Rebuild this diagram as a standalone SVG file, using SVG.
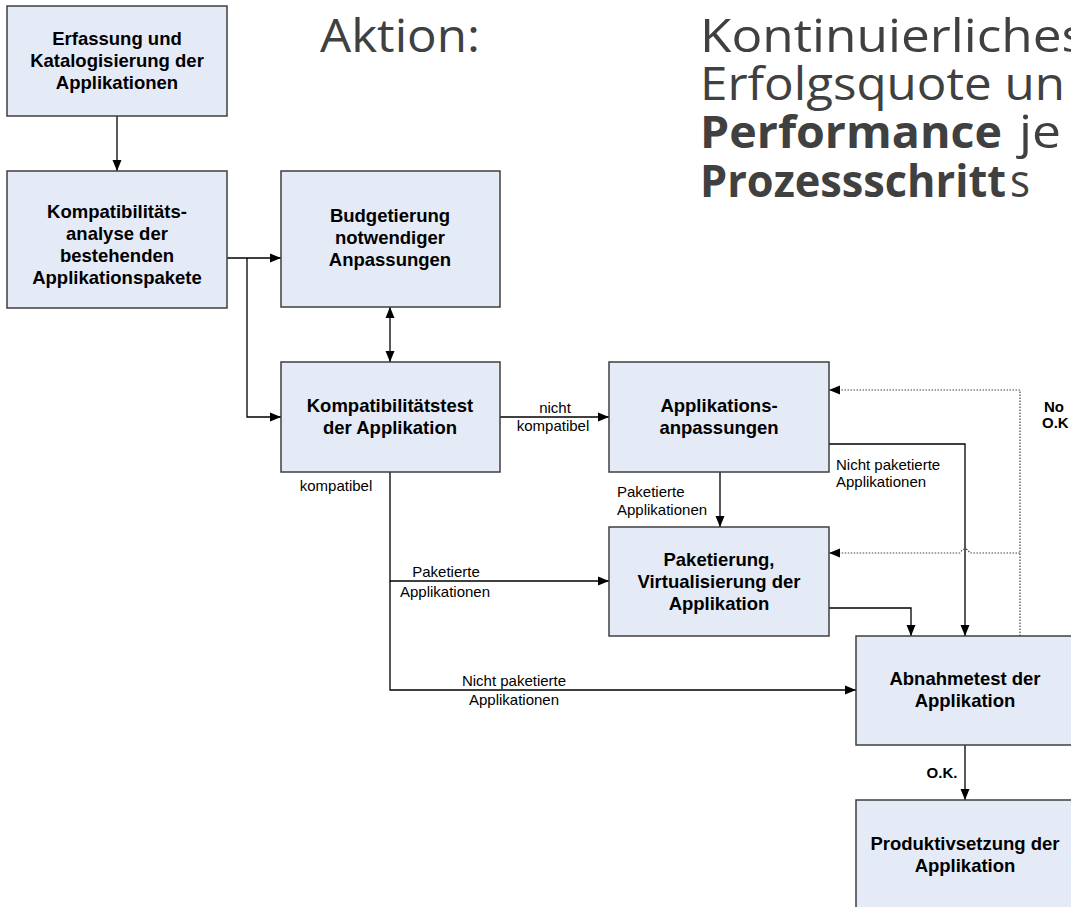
<svg xmlns="http://www.w3.org/2000/svg" width="1071" height="907" viewBox="0 0 1071 907">
<defs>
<style>
.box{fill:#e5ebf6;stroke:#3f3f3f;stroke-width:1.5}
.nt{font-family:"Liberation Sans",Arial,sans-serif;font-weight:bold;font-size:18.5px;fill:#000;text-anchor:middle}
.lb{font-family:"Liberation Sans",Arial,sans-serif;font-size:15px;fill:#000}
.lbb{font-family:"Liberation Sans",Arial,sans-serif;font-size:15px;font-weight:bold;fill:#000}
.c{fill:none;stroke:#000;stroke-width:1.3}
.d{fill:none;stroke:#444;stroke-width:1.2;stroke-dasharray:1.5 1.5}
.t{font-family:"Open Sans","Noto Sans",sans-serif;font-size:45px;fill:#404040}
.tb{font-family:"Open Sans","Noto Sans",sans-serif;font-size:45px;font-weight:bold;fill:#404040}
</style>
<marker id="ah" markerUnits="userSpaceOnUse" markerWidth="12" markerHeight="10" refX="11" refY="5" orient="auto-start-reverse"><path d="M0,0.5 L11,5 L0,9.5 z" fill="#000"/></marker>
</defs>
<rect width="1071" height="907" fill="#fff"/>

<g id="title">
<text class="t" x="320" y="52" textLength="160" lengthAdjust="spacingAndGlyphs">Aktion:</text>
<text class="t" x="700" y="52" textLength="386" lengthAdjust="spacingAndGlyphs">Kontinuierliches</text>
<text class="t" x="700" y="100" textLength="365" lengthAdjust="spacingAndGlyphs">Erfolgsquote un</text>
<text class="tb" x="700" y="148" textLength="302" lengthAdjust="spacingAndGlyphs">Performance</text>
<text class="t" x="1019" y="148" textLength="42" lengthAdjust="spacingAndGlyphs">je</text>
<text class="tb" x="700" y="197" textLength="306" lengthAdjust="spacingAndGlyphs">Prozessschritt</text>
<text class="t" x="1010" y="197" textLength="20" lengthAdjust="spacingAndGlyphs">s</text>
</g>

<g id="connectors">
<path class="c" d="M117,116 V171" marker-end="url(#ah)"/>
<path class="c" d="M227,258 H281" marker-end="url(#ah)"/>
<path class="c" d="M247,258 V417 H281" marker-end="url(#ah)"/>
<path class="c" d="M390,307 V362" marker-start="url(#ah)" marker-end="url(#ah)"/>
<path class="c" d="M500,417 H609" marker-end="url(#ah)"/>
<path class="c" d="M720,472 V527" marker-end="url(#ah)"/>
<path class="c" d="M390,472 V581 H609" marker-end="url(#ah)"/>
<path class="c" d="M390,581 V690 H856" marker-end="url(#ah)"/>
<path class="c" d="M829,444 H965 V636" marker-end="url(#ah)"/>
<path class="c" d="M829,608 H911 V636" marker-end="url(#ah)"/>
<path class="c" d="M965,745 V800" marker-end="url(#ah)"/>
<path class="d" d="M1020,636 V390 H829" marker-end="url(#ah)"/>
<path class="d" d="M1020,553 H970 Q965,545 960,553 H829" marker-end="url(#ah)"/>
<text class="lb" x="555" y="413" text-anchor="middle">nicht</text>
<text class="lb" x="553" y="431" text-anchor="middle">kompatibel</text>
<text class="lb" x="336" y="491" text-anchor="middle">kompatibel</text>
<text class="lb" x="446" y="577" text-anchor="middle">Paketierte</text>
<text class="lb" x="445" y="597" text-anchor="middle">Applikationen</text>
<text class="lb" x="514" y="686" text-anchor="middle">Nicht paketierte</text>
<text class="lb" x="514" y="705" text-anchor="middle">Applikationen</text>
<text class="lb" x="617" y="497">Paketierte</text>
<text class="lb" x="617" y="515">Applikationen</text>
<text class="lb" x="836" y="470">Nicht paketierte</text>
<text class="lb" x="836" y="487">Applikationen</text>
<text class="lbb" x="942" y="778" text-anchor="middle">O.K.</text>
<text class="lbb" x="1044" y="412">No</text>
<text class="lbb" x="1042" y="428">O.K</text>
</g>

<g id="n1"><rect class="box" x="7" y="6" width="220" height="110"/>
<text class="nt" x="117" y="45">Erfassung und</text><text class="nt" x="117" y="67">Katalogisierung der</text><text class="nt" x="117" y="89">Applikationen</text></g>
<g id="n2"><rect class="box" x="7" y="171" width="220" height="137"/>
<text class="nt" x="117" y="218">Kompatibilitäts-</text><text class="nt" x="117" y="240">analyse der</text><text class="nt" x="117" y="262">bestehenden</text><text class="nt" x="117" y="284">Applikationspakete</text></g>
<g id="n3"><rect class="box" x="281" y="171" width="219" height="136"/>
<text class="nt" x="390" y="222">Budgetierung</text><text class="nt" x="390" y="244">notwendiger</text><text class="nt" x="390" y="266">Anpassungen</text></g>
<g id="n4"><rect class="box" x="281" y="362" width="219" height="110"/>
<text class="nt" x="390" y="412">Kompatibilitätstest</text><text class="nt" x="390" y="434">der Applikation</text></g>
<g id="n5"><rect class="box" x="609" y="362" width="220" height="110"/>
<text class="nt" x="719" y="412">Applikations-</text><text class="nt" x="719" y="434">anpassungen</text></g>
<g id="n6"><rect class="box" x="609" y="527" width="220" height="109"/>
<text class="nt" x="719" y="566">Paketierung,</text><text class="nt" x="719" y="588">Virtualisierung der</text><text class="nt" x="719" y="610">Applikation</text></g>
<g id="n7"><rect class="box" x="856" y="636" width="218" height="109"/>
<text class="nt" x="965" y="685">Abnahmetest der</text><text class="nt" x="965" y="707">Applikation</text></g>
<g id="n8"><rect class="box" x="856" y="800" width="218" height="110"/>
<text class="nt" x="965" y="850">Produktivsetzung der</text><text class="nt" x="965" y="872">Applikation</text></g>
</svg>
